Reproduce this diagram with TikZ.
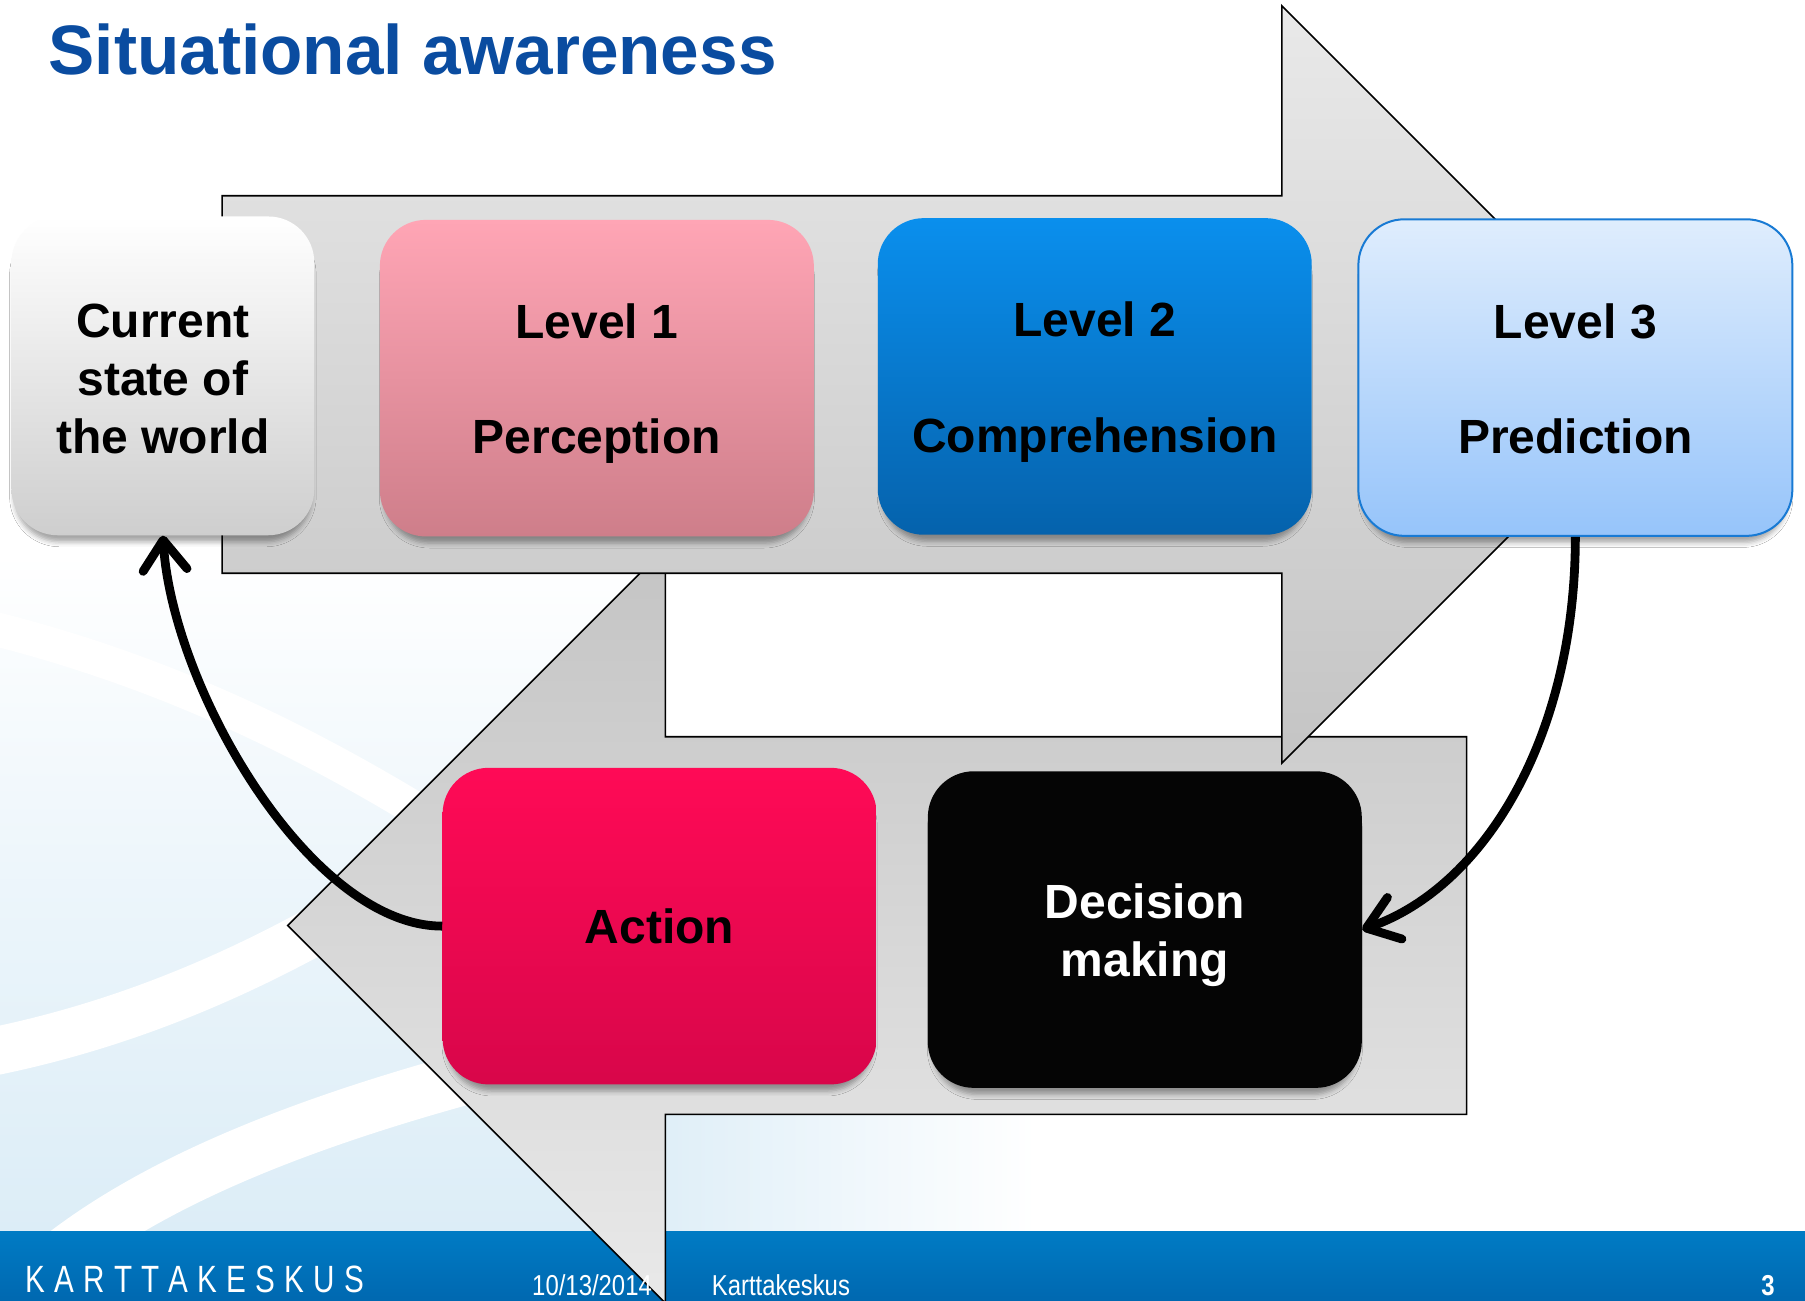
\documentclass[tikz,border=0pt]{standalone}
\usepackage{fontspec}
\setmainfont{Liberation Sans}
\usepackage{graphicx}
\usetikzlibrary{arrows.meta,shadows.blur}

\definecolor{titleblue}{RGB}{10,76,160}
\definecolor{bgblue}{RGB}{220,237,247}
\definecolor{footA}{RGB}{0,123,196}
\definecolor{footB}{RGB}{0,104,176}
\definecolor{arrA}{RGB}{233,233,233}
\definecolor{arrB}{RGB}{196,196,196}
\definecolor{curB}{RGB}{206,206,206}
\definecolor{pinkA}{RGB}{255,165,181}
\definecolor{pinkB}{RGB}{206,126,138}
\definecolor{blueA}{RGB}{10,143,237}
\definecolor{blueB}{RGB}{5,98,172}
\definecolor{ltA}{RGB}{223,237,253}
\definecolor{ltB}{RGB}{150,196,250}
\definecolor{ltD}{RGB}{24,122,212}
\definecolor{redA}{RGB}{255,10,86}
\definecolor{redB}{RGB}{216,6,74}
\definecolor{decA}{RGB}{5,5,5}

\newcommand\boxfont{\fontsize{24}{28.8}\selectfont\bfseries}
\newcommand\footfont{\fontsize{14.4}{16}\selectfont}
\newcommand\tstrut{\rule{0pt}{23pt}}
\newcommand\cstrut{\rule{0pt}{19.8pt}}
\newcommand\spc{\kern5.9pt}

\begin{document}
\begin{tikzpicture}[x=0.5756pt,y=-0.5756pt,
  sbox/.style={rounded corners=23pt, inner sep=0pt, align=center, font=\boxfont,
     minimum width=217pt, minimum height=158.3pt,
     blur shadow={shadow xshift=0pt,shadow yshift=-5pt,shadow scale=0.98,shadow opacity=35,shadow blur radius=2.5pt}},
  bigarrow/.style={draw=black, line width=0.8pt},
  conn/.style={line width=4.4pt, -{Straight Barb[length=15pt,width=22pt,round]}},
  foot/.style={anchor=base west, inner sep=0pt, text=white, font=\footfont}
]
\useasboundingbox (0,0) rectangle (1568,1130);
\fill[white] (0,0) rectangle (1568,1130);

% background swooshes
\shade[top color=white, bottom color=bgblue, middle color=bgblue!55] (0,480) rectangle (578,1070);
\shade[left color=bgblue!90, right color=white] (578,968) rectangle (900,1070);
\draw[white, line width=17pt] (-30,540) .. controls (120,575) and (260,635) .. (420,740);
\draw[white, line width=24pt] (-30,918) .. controls (100,895) and (220,845) .. (340,770);
\draw[white, line width=26pt] (30,1110) .. controls (120,1030) and (260,975) .. (430,930);

% footer band
\shade[top color=footA, bottom color=footB] (0,1070) rectangle (1568,1130);

% big arrows
\path[bigarrow, top color=arrB, bottom color=arrA]
  (1274,640) -- (578,640) -- (578,476) -- (250,804) -- (578,1132) -- (578,968) -- (1274,968) -- cycle;
\path[bigarrow, top color=arrA, bottom color=arrB]
  (193,170) -- (1113.5,170) -- (1113.5,5) -- (1442.5,334) -- (1113.5,663) -- (1113.5,498) -- (193,498) -- cycle;

% title
\node[anchor=base west, inner sep=0pt, text=titleblue, font=\fontsize{35}{40}\selectfont\bfseries] (title) at (42,64.3) {\scalebox{0.99}[1]{Situational awareness}};

% boxes
\node[sbox, minimum width=151.4pt, minimum height=159.4pt, top color=white, bottom color=curB] (cur) at (141.5,326.5) {\cstrut Current\\state of\\the world};
\node[sbox, top color=pinkA, bottom color=pinkB] (l1) at (518.5,328.5) {\tstrut Level 1\\[28.8pt]Perception};
\node[sbox, top color=blueA, bottom color=blueB] (l2) at (951,327) {\tstrut Level 2\\[28.8pt]Comprehension};
\node[sbox, top color=ltA, bottom color=ltB, draw=ltD, line width=1pt] (l3) at (1368.5,328) {\tstrut Level 3\\[28.8pt]Prediction\vphantom{p}};
\node[sbox, top color=redA, bottom color=redB] (act) at (573,804.5) {Action};
\node[sbox, fill=decA, text=white] (dec) at (994.5,807.5) {\tstrut Decision\\making};

% connectors
\draw[conn] (act.west) .. controls +(-114,0) and +(8.5,134) .. (cur.south);
\draw[conn] (l3.south) .. controls +(0,174) and +(106,-37) .. (dec.east);

% footer texts
\node[foot, font=\fontsize{19}{21}\selectfont] (logo) at (22,1123) {\scalebox{0.78}[1]{K\spc A\spc R\spc T\spc T\spc A\spc K\spc E\spc S\spc K\spc U\spc S}};
\node[foot] (date) at (462,1125) {\scalebox{0.83}[1]{10/13/2014}};
\node[foot] (org) at (618,1125) {\scalebox{0.83}[1]{Karttakeskus}};
\node[foot, anchor=base east] (pg) at (1542,1125) {\scalebox{0.83}[1]{\bfseries 3}};
\end{tikzpicture}
\end{document}
